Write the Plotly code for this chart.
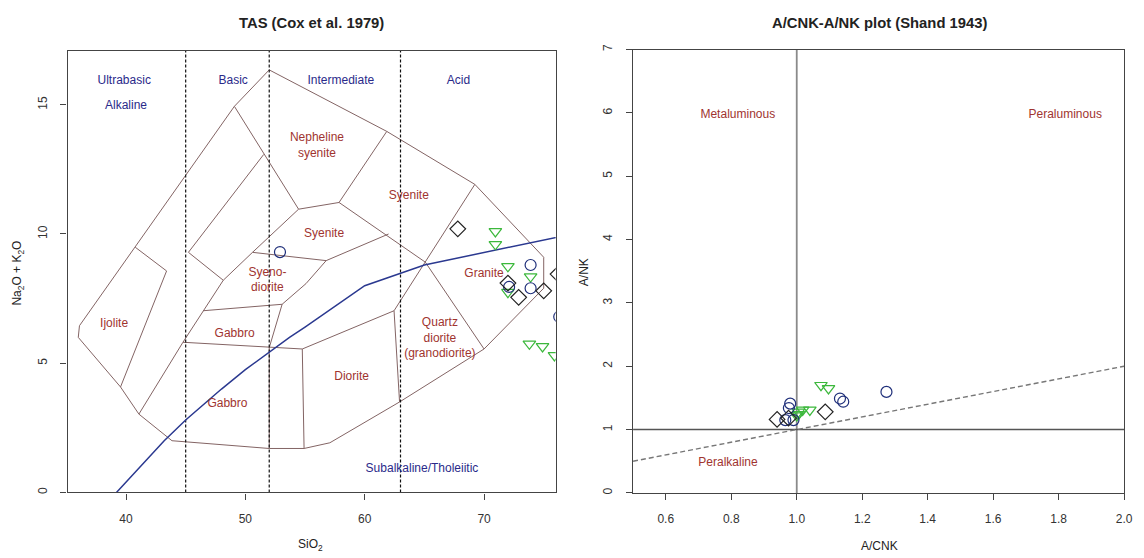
import plotly.graph_objects as go

W, H = 1144, 558
OFF = 8  # page body margin offset of the plotly div

# ---------------- TAS data (SiO2, Na2O+K2O) ----------------
tas_diamond_si = [67.8, 72.0, 72.9, 75.0, 76.2]
tas_diamond_alk = [10.2, 8.1, 7.55, 7.8, 8.45]
tas_circle_si = [52.9, 73.9, 73.9, 72.1, 76.3]
tas_circle_alk = [9.3, 8.8, 7.9, 7.95, 6.8]
tas_tri_si = [70.95, 70.95, 72.0, 73.9, 72.0, 73.8, 74.9, 75.9]
tas_tri_alk = [10.1, 9.6, 8.75, 8.35, 7.75, 5.75, 5.65, 5.3]

# ---------------- Shand data (A/CNK, A/NK) ----------------
sh_diamond_x = [0.94, 1.087, 0.975]
sh_diamond_y = [1.16, 1.28, 1.18]
sh_circle_x = [1.274, 1.132, 1.142, 0.98, 0.976, 0.965, 0.99]
sh_circle_y = [1.595, 1.49, 1.44, 1.41, 1.34, 1.15, 1.15]
sh_tri_x = [1.074, 1.097, 1.005, 1.018, 1.04, 1.005, 1.0]
sh_tri_y = [1.70, 1.65, 1.28, 1.31, 1.31, 1.24, 1.22]

# ---------------- TAS field boundaries (Cox et al. 1979, plutonic) ----------------
outer_si = [52.0, 61.85, 69.23, 75.0, 75.0, 70.0, 62.92, 57.08, 54.92, 52.0, 43.85, 41.08, 39.54, 36.0, 36.1, 49.08, 52.0]
outer_alk = [16.35, 13.97, 11.92, 9.1, 7.9, 5.55, 3.5, 1.92, 1.7, 1.7, 2.0, 3.03, 4.08, 6.0, 6.45, 14.94, 16.35]
inner_lines = [
    ([49.08, 54.46, 57.85, 61.85], [14.94, 10.96, 11.22, 13.97]),
    ([57.85, 65.08], [11.22, 8.91]),
    ([69.23, 65.08, 62.46, 62.92], [11.92, 8.91, 7.03, 3.5]),
    ([65.08, 70.0], [8.91, 5.55]),
    ([62.46, 54.77, 54.92], [7.03, 5.55, 1.7]),
    ([54.77, 44.77], [5.55, 5.81]),
    ([52.0, 52.0], [5.6, 1.7]),
    ([52.0, 53.08, 46.46], [5.6, 7.28, 7.03]),
    ([53.08, 55.08, 56.77, 62.0], [7.28, 8.08, 8.97, 10.0]),
    ([56.77, 50.6, 48.15], [8.97, 9.29, 8.21]),
    ([54.46, 50.6], [10.96, 9.29]),
    ([51.54, 45.23, 48.15], [13.08, 9.29, 8.21]),
    ([48.15, 44.77, 41.08], [8.21, 5.81, 3.03]),
    ([40.77, 43.4, 39.54], [9.49, 8.57, 4.08]),
]
# Irvine & Baragar (1971) alkaline/subalkaline divide
ib_si = [39.2, 40, 43.2, 45, 48, 50, 53.7, 55, 60, 65, 77.4]
ib_alk = [0, 0.4, 2, 2.8, 4, 4.75, 6, 6.4, 8, 8.8, 10]
# silica-class divisions
div_si = [45, 52, 63]

field_labels = ["Nepheline<br>syenite", "Syenite", "Syenite", "Syeno-<br>diorite", "Granite", "Ijolite",
                "Gabbro", "Quartz<br>diorite<br>(granodiorite)", "Diorite", "Gabbro"]
field_lab_si = [56.0, 63.7, 56.6, 51.85, 70.0, 39.0, 49.1, 66.3, 58.9, 48.5]
field_lab_alk = [13.4, 11.47, 10.0, 8.2, 8.47, 6.5, 6.13, 5.95, 4.46, 3.44]
class_labels = ["Ultrabasic", "Alkaline", "Basic", "Intermediate", "Acid", "Subalkaline/Tholeiitic"]
class_lab_si = [39.85, 40.0, 48.98, 58.0, 67.85, 64.8]
class_lab_alk = [15.92, 14.94, 15.92, 15.92, 15.92, 0.9]

# Shand labels
shand_labels = ["Metaluminous", "Peraluminous", "Peralkaline"]
shand_lab_x = [0.82, 1.82, 0.79]
shand_lab_y = [5.96, 5.96, 0.48]

FIELD_COL = "#836464"
LAB_COL = "#a0342f"
CLASS_COL = "#2a2a8a"
FONT = "Liberation Sans, Arial, sans-serif"

fig = go.Figure()

# TAS fields
fig.add_trace(go.Scatter(x=outer_si, y=outer_alk, mode="lines", line=dict(color=FIELD_COL, width=1),
                         xaxis="x", yaxis="y", hoverinfo="skip", showlegend=False))
for xs, ys in inner_lines:
    fig.add_trace(go.Scatter(x=xs, y=ys, mode="lines", line=dict(color=FIELD_COL, width=1),
                             xaxis="x", yaxis="y", hoverinfo="skip", showlegend=False))
for v in div_si:
    fig.add_trace(go.Scatter(x=[v, v], y=[0, 17.1], mode="lines", line=dict(color="#111111", width=1.2, dash="3px,2px"),
                             xaxis="x", yaxis="y", hoverinfo="skip", showlegend=False))
fig.add_trace(go.Scatter(x=ib_si, y=ib_alk, mode="lines", line=dict(color="#2b3990", width=1.5),
                         xaxis="x", yaxis="y", hoverinfo="skip", showlegend=False))

fig.add_trace(go.Scatter(x=field_lab_si, y=field_lab_alk, mode="text", text=field_labels,
                         textfont=dict(color=LAB_COL, size=12, family=FONT), xaxis="x", yaxis="y",
                         hoverinfo="skip", showlegend=False))
fig.add_trace(go.Scatter(x=class_lab_si, y=class_lab_alk, mode="text", text=class_labels,
                         textfont=dict(color=CLASS_COL, size=12, family=FONT), xaxis="x", yaxis="y",
                         hoverinfo="skip", showlegend=False))

TRI_COL, CIR_COL, DIA_COL = "#3cb83c", "#1f2f7a", "#222222"
fig.add_trace(go.Scatter(x=tas_tri_si, y=tas_tri_alk, mode="markers", xaxis="x", yaxis="y",
                         marker=dict(symbol="triangle-down-open", color=TRI_COL, size=11, line=dict(width=1.2)), showlegend=False))
fig.add_trace(go.Scatter(x=tas_circle_si, y=tas_circle_alk, mode="markers", xaxis="x", yaxis="y",
                         marker=dict(symbol="circle-open", color=CIR_COL, size=11, line=dict(width=1.2)), showlegend=False))
fig.add_trace(go.Scatter(x=tas_diamond_si, y=tas_diamond_alk, mode="markers", xaxis="x", yaxis="y",
                         marker=dict(symbol="diamond-open", color=DIA_COL, size=12, line=dict(width=1.2)), showlegend=False))

# Shand plot
fig.add_trace(go.Scatter(x=[1, 1], y=[0, 7], mode="lines", line=dict(color="#8a8a8a", width=1.8),
                         xaxis="x2", yaxis="y2", hoverinfo="skip", showlegend=False))
fig.add_trace(go.Scatter(x=[0.5, 2.0], y=[1, 1], mode="lines", line=dict(color="#555555", width=1.4),
                         xaxis="x2", yaxis="y2", hoverinfo="skip", showlegend=False))
fig.add_trace(go.Scatter(x=[0.5, 2.0], y=[0.5, 2.0], mode="lines", line=dict(color="#777777", width=1.4, dash="5px,3px"),
                         xaxis="x2", yaxis="y2", hoverinfo="skip", showlegend=False))
fig.add_trace(go.Scatter(x=shand_lab_x, y=shand_lab_y, mode="text", text=shand_labels,
                         textfont=dict(color=LAB_COL, size=12, family=FONT), xaxis="x2", yaxis="y2",
                         hoverinfo="skip", showlegend=False))
fig.add_trace(go.Scatter(x=sh_tri_x, y=sh_tri_y, mode="markers", xaxis="x2", yaxis="y2",
                         marker=dict(symbol="triangle-down-open", color=TRI_COL, size=11, line=dict(width=1.2)), showlegend=False))
fig.add_trace(go.Scatter(x=sh_circle_x, y=sh_circle_y, mode="markers", xaxis="x2", yaxis="y2",
                         marker=dict(symbol="circle-open", color=CIR_COL, size=11, line=dict(width=1.2)), showlegend=False))
fig.add_trace(go.Scatter(x=sh_diamond_x, y=sh_diamond_y, mode="markers", xaxis="x2", yaxis="y2",
                         marker=dict(symbol="diamond-open", color=DIA_COL, size=12, line=dict(width=1.2)), showlegend=False))

AX_COL = "#444444"
tickfont = dict(size=12, color="#333333", family=FONT)


def xdom(a, b):
    return [(a - OFF) / W, (b - OFF) / W]


def ydom(top, bottom):
    return [1 - (bottom - OFF) / H, 1 - (top - OFF) / H]


common = dict(showline=True, linecolor=AX_COL, linewidth=1.3, mirror=True, ticks="outside", ticklen=6,
              tickcolor=AX_COL, showgrid=False, zeroline=False, tickfont=tickfont)

fig.update_layout(
    width=W, height=H, margin=dict(l=0, r=0, t=0, b=0),
    paper_bgcolor="white", plot_bgcolor="white", showlegend=False,
    xaxis=dict(domain=xdom(68, 560), range=[35.1, 76], tickvals=[40, 50, 60, 70], anchor="y",
               ticklabelstandoff=9, **common),
    yaxis=dict(domain=ydom(46, 493.5), range=[0, 17.1], tickvals=[0, 5, 10, 15], tickangle=-90, anchor="x",
               ticklabelstandoff=9, **common),
    xaxis2=dict(domain=xdom(638, 1133), range=[0.5, 2.0], tickvals=[0.6, 0.8, 1.0, 1.2, 1.4, 1.6, 1.8, 2.0],
                ticktext=["0.6", "0.8", "1.0", "1.2", "1.4", "1.6", "1.8", "2.0"], anchor="y2",
                ticklabelstandoff=9, **common),
    yaxis2=dict(domain=ydom(45, 494), range=[0, 7], tickvals=[0, 1, 2, 3, 4, 5, 6, 7], tickangle=-90, anchor="x2",
                ticklabelstandoff=9, **common),
)


def px(x, y):
    return (x - OFF) / W, 1 - (y - OFF) / H


annots = [
    ("<b>TAS (Cox et al. 1979)</b>", 314, 18, 0, 14.8),
    ("<b>A/CNK-A/NK plot (Shand 1943)</b>", 886, 18, 0, 14.8),
    ("SiO<sub>2</sub>", 313, 547, 0, 12),
    ("Na<sub>2</sub>O + K<sub>2</sub>O", 18, 271, -90, 12),
    ("A/CNK", 886, 548, 0, 12),
    ("A/NK", 588, 270, -90, 12),
]
for text, x, y, ang, sz in annots:
    ax, ay = px(x, y)
    fig.add_annotation(text=text, x=ax, y=ay, xref="paper", yref="paper", showarrow=False,
                       textangle=ang, font=dict(size=sz, color="#222222", family=FONT),
                       xanchor="center", yanchor="middle")

fig.write_html("out.html")
